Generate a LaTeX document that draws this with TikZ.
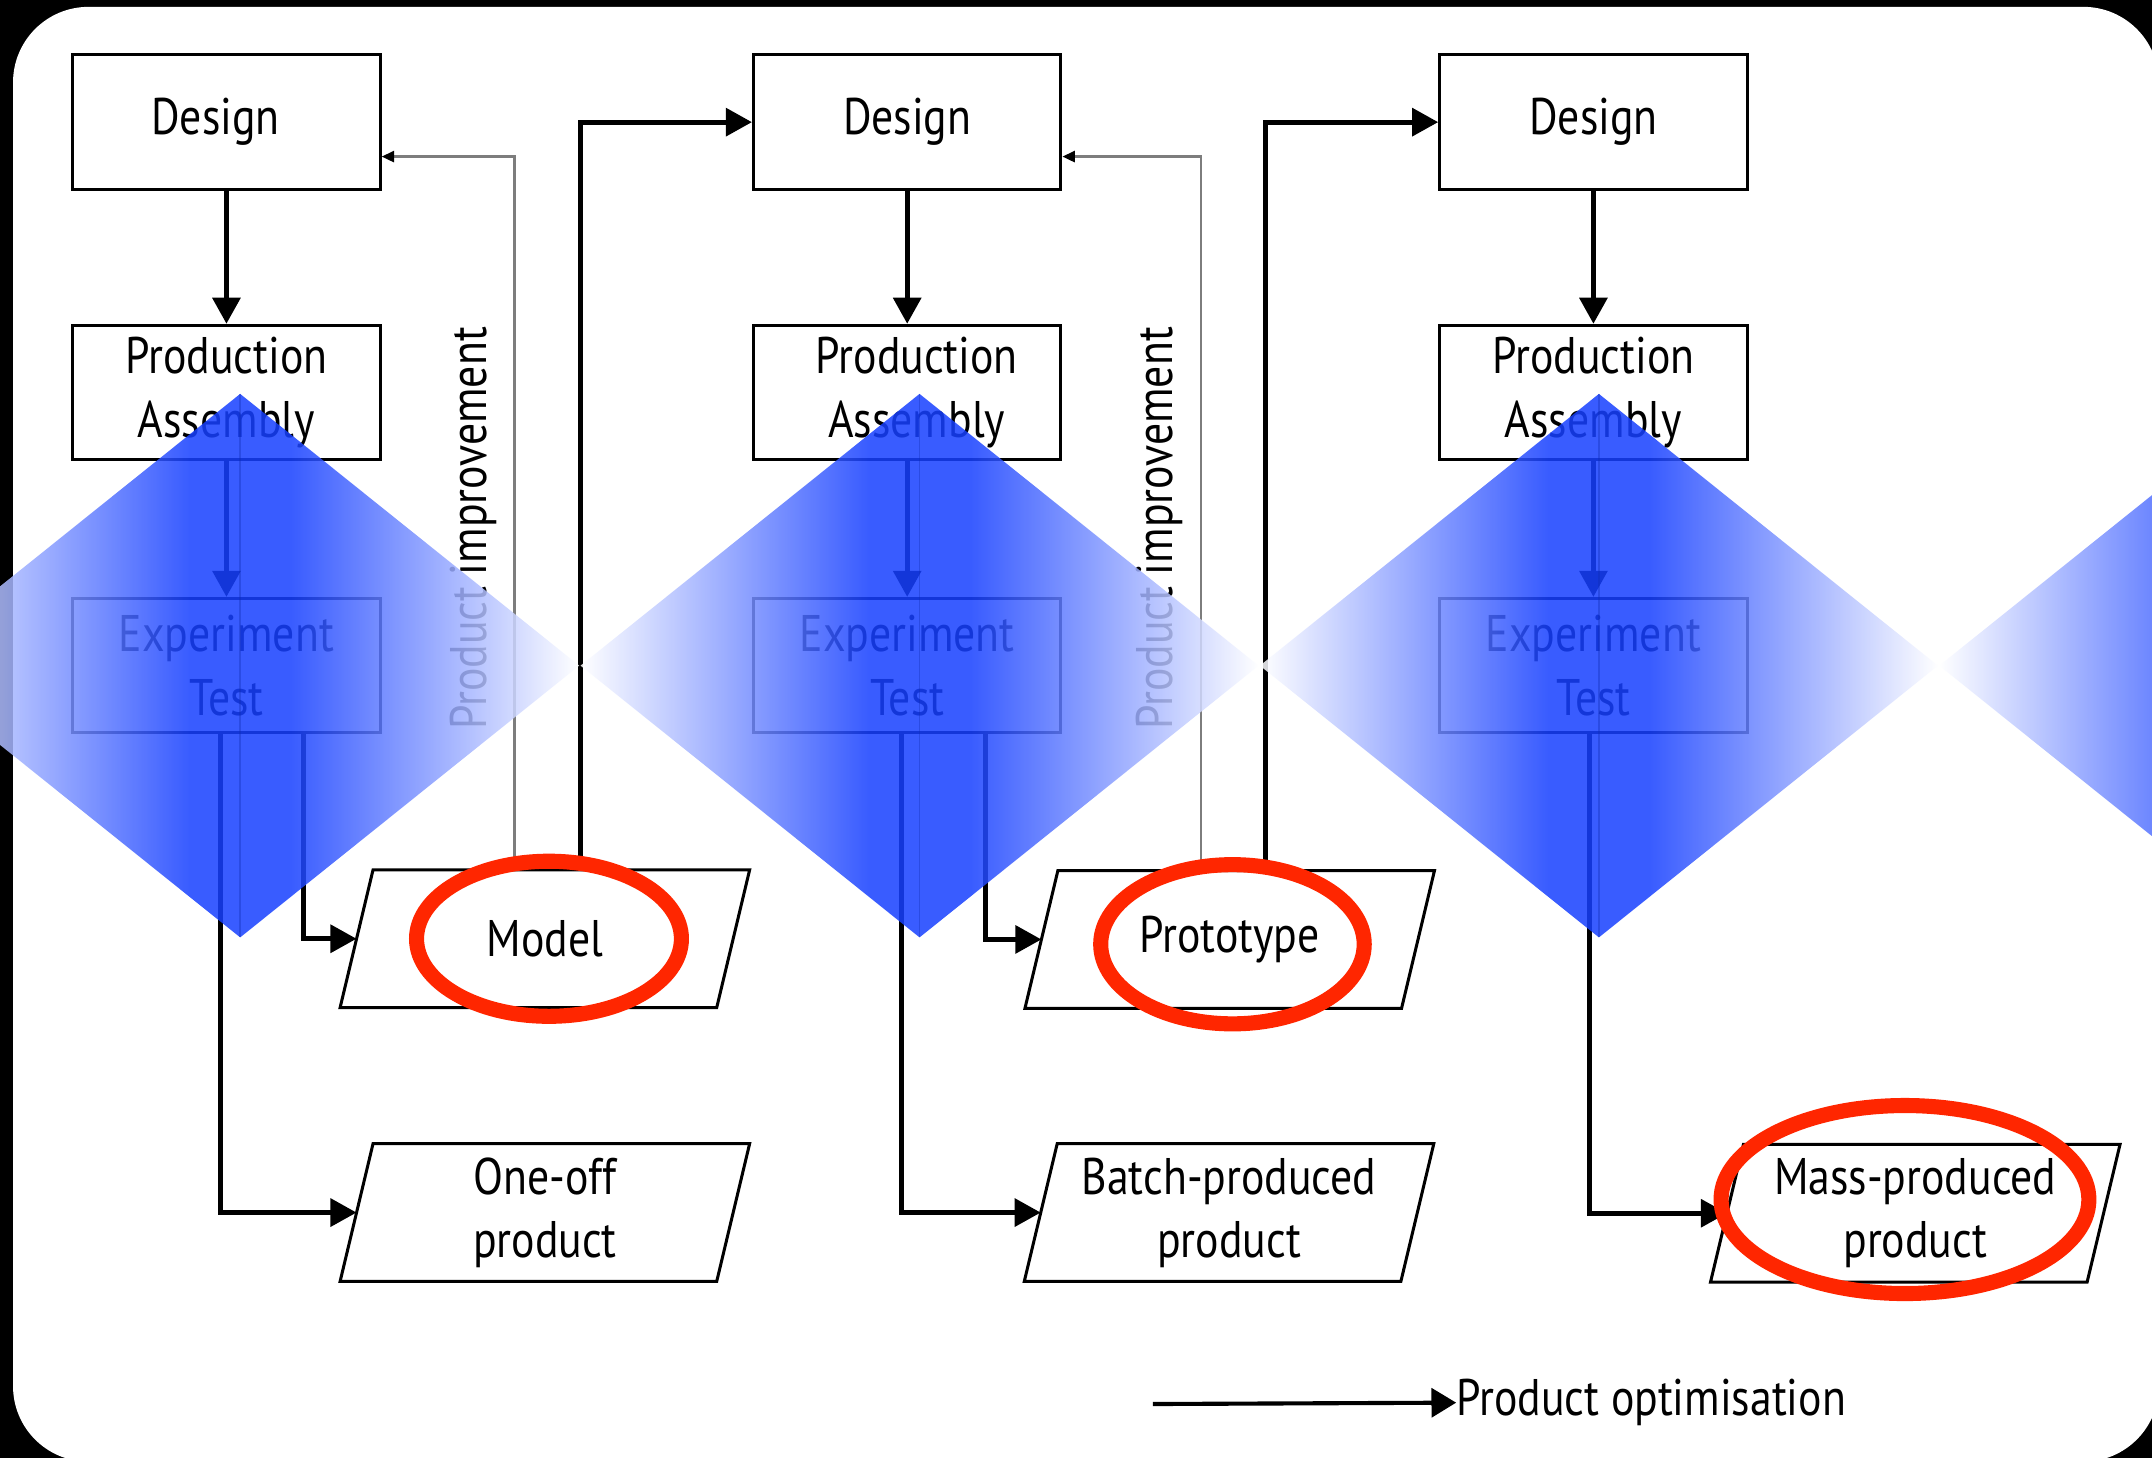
\documentclass[tikz,border=0pt]{standalone}
\usepackage{fontspec}
\setmainfont{PT Sans}[FakeStretch=0.85]
\usetikzlibrary{arrows.meta,calc}
\definecolor{bl}{RGB}{23,64,255}
\definecolor{redc}{RGB}{255,38,0}
\definecolor{fbgray}{RGB}{125,125,125}
\pgfdeclarehorizontalshading{dmd}{100bp}{color(0bp)=(white); color(25bp)=(white); color(46.25bp)=(bl); color(53.75bp)=(bl); color(75bp)=(white); color(100bp)=(white)}
\newcommand\dgfont{\fontsize{37.5pt}{46pt}\selectfont}
\begin{document}
\begin{tikzpicture}[x=1pt,y=-1pt,
  every node/.style={font=\dgfont, inner sep=0pt, align=center},
  box/.style={draw, line width=2.2pt, minimum width=224pt, minimum height=98pt},
  pg/.style={minimum width=298pt, minimum height=100pt},
  pgline/.style={line width=2.2pt, line join=miter},
  arr/.style={line width=3.6pt, -{Triangle[length=19pt,width=20pt]}},
  legarr/.style={line width=3pt, -{Triangle[length=18pt,width=21pt]}},
  fb/.style={line width=1.8pt, draw=fbgray, -{Triangle[length=9pt,width=8pt,color=black]}},
  ring/.style={draw=redc, line width=11pt},
  dmdstyle/.style={shading=dmd, fill opacity=0.85},
  seam/.style={draw=bl!70!black, opacity=0.35, line width=1pt}
]
\useasboundingbox (0,0) rectangle (1568,1062);
\clip (0,0) rectangle (1568,1062);
\fill[black] (0,0) rectangle (1568,1062);
\fill[white, rounded corners=55pt] (9.5,5) rectangle (1573,1065);

% boxes
\node[box] (d1) at (165,89) {\hspace*{-16pt}Design};
\node[box] (p1) at (165,286) {Production\\Assembly};
\node[box] (e1) at (165,485) {Experiment\\Test};
\node[box] (d2) at (661,89) {Design};
\node[box] (p2) at (661,286) {\hspace*{14pt}Production\\\hspace*{14pt}Assembly};
\node[box] (e2) at (661,485) {Experiment\\Test};
\node[box] (d3) at (1161,89) {Design};
\node[box] (p3) at (1161,286) {Production\\Assembly};
\node[box] (e3) at (1161,485) {Experiment\\Test};

% parallelograms
\node[pg] (m1) at (397,684) {Model};
\node[pg] (o1) at (397,883.5) {One-off\\product};
\node[pg] (m2) at (896,684.5) {Prototype};
\node[pg] (o2) at (895.5,883.5) {Batch-produced\\product};
\node[pg] (o3) at (1395.5,884) {Mass-produced\\product};
\foreach \n in {m1,o1,m2,o2,o3}{
  \draw[pgline] (\n.south west) -- ($(\n.north west)+(24,0)$) -- (\n.north east) -- ($(\n.south east)+(-24,0)$) -- cycle;
  \coordinate (\n L) at ($(\n.west)+(12,0)$);
}

% column arrows
\draw[arr] (d1) -- (p1);
\draw[arr] (p1) -- (e1);
\draw[arr] ($(e1.south)+(-4,0)$) |- (o1L);
\draw[arr] ($(e1.south)+(56,0)$) |- (m1L);
\draw[arr] (d2) -- (p2);
\draw[arr] (p2) -- (e2);
\draw[arr] ($(e2.south)+(-4,0)$) |- (o2L);
\draw[arr] ($(e2.south)+(57,0)$) |- (m2L);
\draw[arr] (d3) -- (p3);
\draw[arr] (p3) -- (e3);
\draw[arr] ($(e3.south)+(-3,0)$) |- (o3L);

% feedback and forward
\draw[fb] ($(m1.north)+(-22,0)$) |- ($(d1.south east)+(0,-25)$);
\draw[arr] ($(m1.north)+(26,0)$) |- (d2.west);
\draw[fb] ($(m2.north)+(-21,0)$) |- ($(d2.south east)+(0,-25)$);
\draw[arr] ($(m2.north)+(26,0)$) |- (d3.west);

% labels
\node[rotate=90] (pi1) at (345,385) {Product improvement};
\node[rotate=90] (pi2) at (845,385) {Product improvement};

% legend
\coordinate (lgs) at (840,1023);
\node[anchor=west] (lg) at (1061,1022) {Product optimisation};
\draw[legarr] (lgs) -- (lg.west);

% diamonds
\foreach \cx in {175,670,1165,1660}{
  \shade[dmdstyle] (\cx-247,485) -- (\cx,287) -- (\cx+247,485) -- (\cx,683) -- cycle;
  \draw[seam] (\cx,287) -- (\cx,683);
}

% red rings
\draw[ring] (400,684) ellipse [x radius=96.5pt, y radius=56.5pt];
\draw[ring] (898,688) ellipse [x radius=96pt, y radius=58pt];
\draw[ring] (1388,874) ellipse [x radius=134pt, y radius=68.5pt];
\end{tikzpicture}
\end{document}
